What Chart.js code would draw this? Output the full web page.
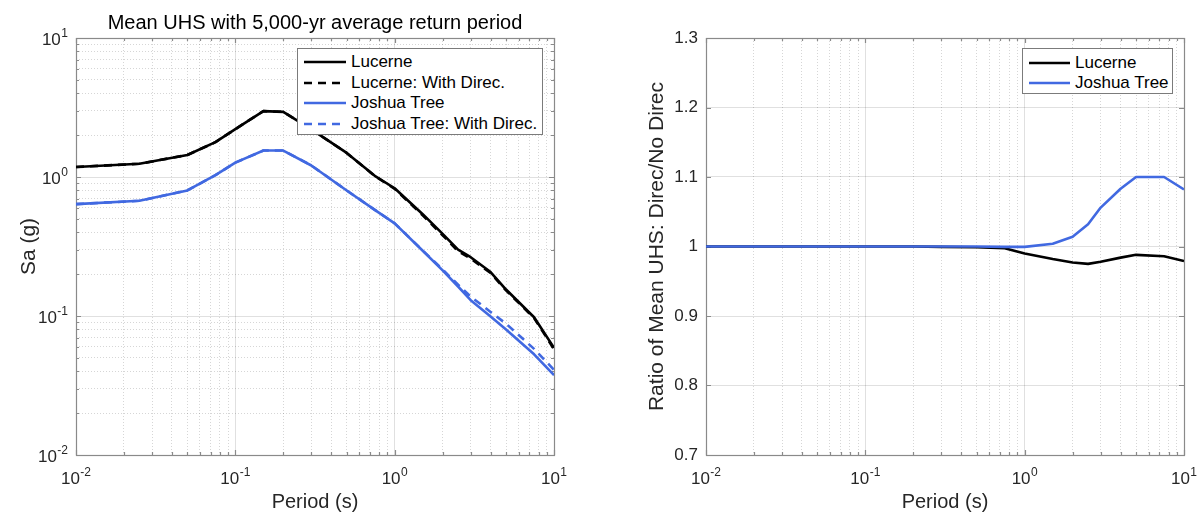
<!DOCTYPE html>
<html>
<head>
<meta charset="utf-8">
<title>Mean UHS and directivity ratio</title>
<script src="https://cdn.jsdelivr.net/npm/chart.js@4.4.1/dist/chart.umd.min.js"></script>
<style>
  html, body { margin: 0; padding: 0; background: #fff; }
  #wrap { position: relative; width: 1198px; height: 512px; overflow: hidden; }
  canvas { position: absolute; top: 0; }
  .legend { position: absolute; box-sizing: border-box; border: 1px solid #7b7b7b; background: #fff;
            font-family: 'Liberation Sans', Arial, Helvetica, sans-serif; font-size: 17px; color: #000; }
  .legend .row { position: absolute; left: 0; right: 0; height: 20px; }
  .legend svg { position: absolute; top: 0; }
  .legend span { position: absolute; top: 0; line-height: 20px; white-space: nowrap; }
</style>
</head>
<body>
<div id="wrap">
  <canvas id="uhs" width="599" height="512" style="left:0"></canvas>
  <canvas id="ratio" width="599" height="512" style="left:599px"></canvas>
  <div id="uhsLegend" class="legend"></div>
  <div id="ratioLegend" class="legend"></div>
</div>
<script>
// Spectral periods (s)
const periods = [0.01, 0.025, 0.05, 0.075, 0.1, 0.15, 0.2, 0.3, 0.5, 0.75, 1, 1.5, 2, 2.5, 3, 4, 5, 7.5, 10];

// Mean UHS, 5,000-yr return period, Sa (g)
const lucerneSa       = [1.18, 1.245, 1.44, 1.78, 2.21, 2.98, 2.94, 2.20, 1.49, 1.02, 0.83, 0.54, 0.39, 0.30, 0.265, 0.207, 0.155, 0.098, 0.059];
const lucerneSaDirec  = [1.18, 1.245, 1.44, 1.78, 2.21, 2.98, 2.94, 2.20, 1.49, 1.017, 0.822, 0.530, 0.381, 0.293, 0.259, 0.204, 0.153, 0.0966, 0.0578];
const joshuaSa        = [0.638, 0.674, 0.80, 1.03, 1.27, 1.55, 1.55, 1.21, 0.80, 0.58, 0.464, 0.295, 0.213, 0.163, 0.130, 0.099, 0.080, 0.053, 0.0375];
const joshuaSaDirec   = [0.638, 0.674, 0.80, 1.03, 1.27, 1.55, 1.55, 1.21, 0.80, 0.58, 0.464, 0.296, 0.216, 0.168, 0.138, 0.107, 0.088, 0.058, 0.041];

// Ratio of mean UHS: with directivity / without
const lucerneRatio = [1, 1, 1, 1, 1, 1, 1, 0.9995, 0.999, 0.9975, 0.990, 0.982, 0.977, 0.975, 0.978, 0.984, 0.988, 0.986, 0.979];
const joshuaRatio  = [1, 1, 1, 1, 1, 1, 1, 1, 1, 0.9995, 0.9995, 1.004, 1.014, 1.032, 1.056, 1.083, 1.100, 1.100, 1.082];

// Axis ticks
const decades         = [0.01, 0.1, 1, 10];
const decadeBase      = '10';
const decadeExponents = ['-2', '-1', '0', '1'];
const ratioTicks      = [0.7, 0.8, 0.9, 1.0, 1.1, 1.2, 1.3];
const ratioTickLabels = ['0.7', '0.8', '0.9', '1', '1.1', '1.2', '1.3'];

const FONT = "'Liberation Sans', Arial, Helvetica, sans-serif";
const BLACK = '#000000';
const BLUE = 'rgb(65,105,225)';
const DASH = [8, 6];
const GRID_MAJOR = 'rgba(0,0,0,0.12)';
const GRID_MINOR = 'rgba(0,0,0,0.16)';
const TEXT = '#262626';

function decadeIndex(v) { return decades.findIndex(d => Math.abs(v / d - 1) < 1e-6); }
function isDecade(v) { return decadeIndex(v) >= 0; }

// 1..9 x 10^k ticks between the decade limits
function logTickValues(min, max) {
  const out = [];
  const e0 = Math.round(Math.log10(min)), e1 = Math.round(Math.log10(max));
  for (let e = e0; e < e1; e++) {
    for (let m = 1; m < 10; m++) out.push(m * Math.pow(10, e));
  }
  out.push(max);
  return out;
}

function logAxis(min, max, extra) {
  return Object.assign({
    type: 'logarithmic',
    min: min,
    max: max,
    afterBuildTicks: s => { s.ticks = logTickValues(min, max).map(v => ({ value: v })); },
    // decade labels carry a raised exponent and are drawn by decadeTickLabels
    ticks: { display: false, autoSkip: false },
    grid: {
      drawTicks: false, lineWidth: 1,
      color: c => (c.tick && isDecade(c.tick.value)) ? GRID_MAJOR : GRID_MINOR
    },
    border: {
      display: false,
      dash: c => (c.tick && isDecade(c.tick.value)) ? [] : [1, 2]
    }
  }, extra);
}

function series(xs, ys) { return xs.map((x, i) => ({ x: x, y: ys[i] })); }

// Box around the axes with inward tick marks
const axesFrame = {
  id: 'axesFrame',
  beforeDatasetsDraw(chart, args, opts) {
    const { ctx, chartArea: a, scales } = chart;
    ctx.save();
    ctx.strokeStyle = '#8a8a8a';
    ctx.lineWidth = 1.2;
    ctx.beginPath();
    scales.x.ticks.forEach(t => {
      const px = Math.round(scales.x.getPixelForValue(t.value)) + 0.5;
      const len = isDecade(t.value) ? 5 : 3;
      ctx.moveTo(px, a.bottom); ctx.lineTo(px, a.bottom - len);
      ctx.moveTo(px, a.top); ctx.lineTo(px, a.top + len);
    });
    scales.y.ticks.forEach(t => {
      const py = Math.round(scales.y.getPixelForValue(t.value)) + 0.5;
      const len = (opts.logY && !isDecade(t.value)) ? 3 : 5;
      ctx.moveTo(a.left, py); ctx.lineTo(a.left + len, py);
      ctx.moveTo(a.right, py); ctx.lineTo(a.right - len, py);
    });
    ctx.stroke();
    ctx.strokeRect(a.left + 0.5, a.top + 0.5, a.right - a.left, a.bottom - a.top);
    ctx.restore();
  }
};

// "10" with a raised exponent at each decade of the log axes
const decadeTickLabels = {
  id: 'decadeTickLabels',
  afterDraw(chart, args, opts) {
    const { ctx, chartArea: a, scales } = chart;
    const baseFont = '17px ' + FONT, expFont = '12px ' + FONT;
    ctx.save();
    ctx.fillStyle = TEXT;
    ctx.textBaseline = 'alphabetic';
    ctx.textAlign = 'left';
    function label(i, x, y, align) {
      ctx.font = baseFont;
      const bw = ctx.measureText(decadeBase).width;
      ctx.font = expFont;
      const ew = ctx.measureText(decadeExponents[i]).width;
      const w = bw + ew + 0.5;
      const left = align === 'center' ? x - w / 2 : x - w;
      ctx.font = baseFont;
      ctx.fillText(decadeBase, left, y);
      ctx.font = expFont;
      ctx.fillText(decadeExponents[i], left + bw + 0.5, y - 8);
    }
    (opts.axes || []).forEach(id => {
      const s = scales[id];
      s.ticks.forEach(t => {
        const i = decadeIndex(t.value);
        if (i < 0) return;
        const p = s.getPixelForValue(t.value);
        if (s.isHorizontal()) label(i, p, a.bottom + 29, 'center');
        else label(i, a.left - 8, p + 7, 'right');
      });
    });
    ctx.restore();
  }
};

const lineStyle = { pointRadius: 0, pointHoverRadius: 0, borderWidth: 2.6, tension: 0, fill: false, borderJoinStyle: 'round' };

// Left: mean UHS
const uhsChart = new Chart(document.getElementById('uhs'), {
  type: 'line',
  data: {
    datasets: [
      Object.assign({ label: 'Lucerne', data: series(periods, lucerneSa), borderColor: BLACK, order: 4 }, lineStyle),
      Object.assign({ label: 'Lucerne: With Direc.', data: series(periods, lucerneSaDirec), borderColor: BLACK, borderDash: DASH, order: 3 }, lineStyle),
      Object.assign({ label: 'Joshua Tree', data: series(periods, joshuaSa), borderColor: BLUE, order: 2 }, lineStyle),
      Object.assign({ label: 'Joshua Tree: With Direc.', data: series(periods, joshuaSaDirec), borderColor: BLUE, borderDash: DASH, order: 1 }, lineStyle)
    ]
  },
  options: {
    responsive: false, animation: false, devicePixelRatio: 1,
    events: [],
    layout: { padding: { left: 0, right: 45, top: 0, bottom: 0 } },
    plugins: {
      legend: { display: false },
      tooltip: { enabled: false },
      title: {
        display: true, fullSize: false, text: 'Mean UHS with 5,000-yr average return period',
        color: '#000', font: { family: FONT, size: 20, weight: 'normal', lineHeight: 1 },
        padding: { top: 13, bottom: 5 }
      },
      axesFrame: { logY: true },
      decadeTickLabels: { axes: ['x', 'y'] }
    },
    scales: {
      x: logAxis(0.01, 10, {
        afterFit: s => { s.height = 57; },
        title: { display: true, text: 'Period (s)', color: TEXT, font: { family: FONT, size: 20, lineHeight: 1 }, padding: { top: 0, bottom: 0 } }
      }),
      y: logAxis(0.01, 10, {
        afterFit: s => { s.width = 76; },
        title: { display: true, text: 'Sa (g)', color: TEXT, font: { family: FONT, size: 21, lineHeight: 1 }, padding: { top: 19, bottom: 0 } }
      })
    }
  },
  plugins: [axesFrame, decadeTickLabels]
});

// Right: ratio with / without directivity
const ratioChart = new Chart(document.getElementById('ratio'), {
  type: 'line',
  data: {
    datasets: [
      Object.assign({ label: 'Lucerne', data: series(periods, lucerneRatio), borderColor: BLACK, order: 2 }, lineStyle),
      Object.assign({ label: 'Joshua Tree', data: series(periods, joshuaRatio), borderColor: BLUE, order: 1 }, lineStyle)
    ]
  },
  options: {
    responsive: false, animation: false, devicePixelRatio: 1,
    events: [],
    layout: { padding: { left: 0, right: 14, top: 38, bottom: 0 } },
    plugins: {
      legend: { display: false },
      tooltip: { enabled: false },
      title: { display: false },
      axesFrame: { logY: false },
      decadeTickLabels: { axes: ['x'] }
    },
    scales: {
      x: logAxis(0.01, 10, {
        afterFit: s => { s.height = 57; },
        title: { display: true, text: 'Period (s)', color: TEXT, font: { family: FONT, size: 20, lineHeight: 1 }, padding: { top: 0, bottom: 0 } }
      }),
      y: {
        type: 'linear', min: 0.7, max: 1.3,
        afterBuildTicks: s => { s.ticks = ratioTicks.map(v => ({ value: v })); },
        afterFit: s => { s.width = 107; },
        ticks: {
          autoSkip: false, padding: 8, color: TEXT,
          font: { family: FONT, size: 17, lineHeight: 1 },
          callback: (v, i) => ratioTickLabels[i]
        },
        grid: { drawTicks: false, lineWidth: 1, color: GRID_MAJOR },
        border: { display: false },
        title: { display: true, text: 'Ratio of Mean UHS: Direc/No Direc', color: TEXT, font: { family: FONT, size: 21, lineHeight: 1 }, padding: { top: 48, bottom: 0 } }
      }
    }
  },
  plugins: [axesFrame, decadeTickLabels]
});

// Legends inside the upper-right corner of each axes
function buildLegend(el, chart, box) {
  el.style.left = box.left + 'px';
  el.style.top = box.top + 'px';
  el.style.width = box.width + 'px';
  el.style.height = box.height + 'px';
  const NS = 'http://www.w3.org/2000/svg';
  chart.data.datasets.forEach((ds, i) => {
    const row = document.createElement('div');
    row.className = 'row';
    row.style.top = (box.first + i * box.step) + 'px';
    const svg = document.createElementNS(NS, 'svg');
    svg.setAttribute('width', box.sample);
    svg.setAttribute('height', 20);
    svg.style.left = box.sampleLeft + 'px';
    const ln = document.createElementNS(NS, 'line');
    ln.setAttribute('x1', 0); ln.setAttribute('x2', box.sample);
    ln.setAttribute('y1', 10); ln.setAttribute('y2', 10);
    ln.setAttribute('stroke', ds.borderColor);
    ln.setAttribute('stroke-width', 2.6);
    if (ds.borderDash) ln.setAttribute('stroke-dasharray', ds.borderDash.join(' '));
    svg.appendChild(ln);
    const txt = document.createElement('span');
    txt.style.left = box.textLeft + 'px';
    txt.textContent = ds.label;
    row.appendChild(svg);
    row.appendChild(txt);
    el.appendChild(row);
  });
}

buildLegend(document.getElementById('uhsLegend'), uhsChart,
  { left: 297, top: 48, width: 246, height: 87, first: 3, step: 20.5, sample: 42, sampleLeft: 6, textLeft: 53 });
buildLegend(document.getElementById('ratioLegend'), ratioChart,
  { left: 1022, top: 48, width: 151, height: 46, first: 4, step: 20, sample: 41, sampleLeft: 6, textLeft: 52 });
</script>
</body>
</html>
